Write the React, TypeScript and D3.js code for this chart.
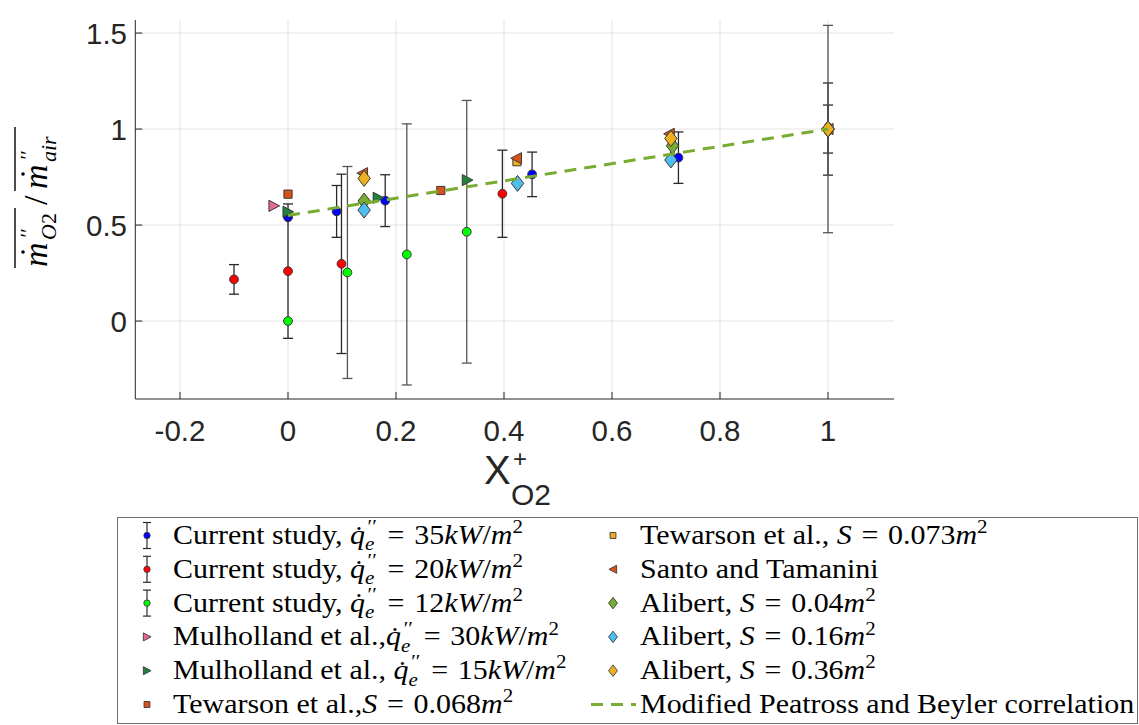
import React from 'react';
import * as d3 from 'd3';

// ---------- data ----------
const xTicks = [-0.2, 0, 0.2, 0.4, 0.6, 0.8, 1];
const yTicks = [0, 0.5, 1, 1.5];

// Current study, q = 35 kW/m2
const cs35X = [0, 0.09, 0.18, 0.452, 0.723, 1.0];
const cs35Y = [0.54, 0.571, 0.627, 0.764, 0.851, 1.0];
const cs35E = [0, 0.135, 0.135, 0.116, 0.134, 0.125];
// Current study, q = 20 kW/m2
const cs20X = [-0.1, 0, 0.099, 0.397, 1.0];
const cs20Y = [0.217, 0.26, 0.298, 0.663, 1.0];
const cs20E = [0.077, 0.35, 0.467, 0.227, 0.24];
// Current study, q = 12 kW/m2
const cs12X = [0, 0.11, 0.22, 0.331, 1.0];
const cs12Y = [0.0, 0.253, 0.347, 0.465, 1.0];
const cs12E = [0, 0.552, 0.68, 0.684, 0.54];

const mul30X = [-0.026];
const mul30Y = [0.6];
const mul15X = [0.0, 0.167, 0.332];
const mul15Y = [0.569, 0.642, 0.734];
const tew068X = [0.0, 0.283];
const tew068Y = [0.661, 0.68];
const tew073X = [0.424];
const tew073Y = [0.83];
const santoX = [0.138, 0.423, 0.706, 1.0];
const santoY = [0.77, 0.848, 0.975, 1.0];
const ali04X = [0.141, 0.712, 1.0];
const ali04Y = [0.625, 0.913, 1.0];
const ali16X = [0.141, 0.425, 0.709, 1.0];
const ali16Y = [0.578, 0.717, 0.839, 1.0];
const ali36X = [0.141, 0.709, 1.0];
const ali36Y = [0.743, 0.951, 1.0];

const corrX = [0, 1];
const corrY = [0.55, 1.0];

// ---------- layout ----------
const W = 1139, H = 725;
const PL = 135.3, PR = 894, PT = 20, PB = 399;
const x = d3.scaleLinear().domain([-0.2828, 1.1222]).range([PL, PR]);
const y = d3.scaleLinear().domain([-0.406, 1.568]).range([PB, PT]);

type Shape = 'circle' | 'triR' | 'triL' | 'square' | 'diamond';

function Marker({ shape, cx, cy, fill, big }: { shape: Shape; cx: number; cy: number; fill: string; big: boolean }) {
  const k = big ? 1 : 0.72;
  const stroke = '#3a3a3a';
  const sw = big ? 1 : 0.9;
  if (shape === 'circle') return <circle cx={cx} cy={cy} r={4.4 * k} fill={fill} stroke={stroke} strokeWidth={sw} />;
  let d = '';
  if (shape === 'triR') { const h = 5.6 * k; d = `M${-h * 0.9},${-h}L${h},0L${-h * 0.9},${h}Z`; }
  if (shape === 'triL') { const h = 5.6 * k; d = `M${h * 0.9},${-h}L${-h},0L${h * 0.9},${h}Z`; }
  if (shape === 'square') { const h = 4.1 * k; d = `M${-h},${-h}h${2 * h}v${2 * h}h${-2 * h}Z`; }
  if (shape === 'diamond') { const w = 6.2 * k, h = 8 * k; d = `M0,${-h}L${w},0L0,${h}L${-w},0Z`; }
  return <path d={d} transform={`translate(${cx},${cy})`} fill={fill} stroke={stroke} strokeWidth={sw} strokeLinejoin="miter" />;
}

type Seg = { t: string; it?: boolean; pos?: 'sup' | 'sub'; dx?: number };

const SERIF = "'Liberation Serif', 'Times New Roman', serif";
const SANS = "'Liberation Sans', Arial, Helvetica, sans-serif";

function Rich({ px, py, segs, size }: { px: number; py: number; segs: Seg[]; size: number }) {
  let cur = 0;
  return (
    <text transform={`translate(${px},${py}) scale(1.11,1)`} fontFamily={SERIF} fontSize={size} fill="#000">
      {segs.map((s, i) => {
        const target = s.pos === 'sup' ? -size * 0.4 : s.pos === 'sub' ? size * 0.24 : 0;
        const dy = target - cur;
        cur = target;
        return (
          <tspan key={i} dy={dy} dx={s.dx || 0} fontStyle={s.it ? 'italic' : 'normal'} fontSize={s.pos ? size * 0.7 : size}>
            {s.t}
          </tspan>
        );
      })}
    </text>
  );
}

const qdot = (val: string, lead: string): Seg[] => [
  { t: lead },
  { t: 'q\u0307', it: true },
  { t: 'e', it: true, pos: 'sub' },
  { t: '\u2032\u2032', pos: 'sup', dx: -6 },
  { t: ' = ', dx: 3 },
  { t: val, dx: 2 },
  { t: 'kW', it: true },
  { t: '/' },
  { t: 'm', it: true },
  { t: '2', pos: 'sup' },
];
const sArea = (lead: string, val: string): Seg[] => [
  { t: lead },
  { t: 'S', it: true },
  { t: ' = ', dx: 2 },
  { t: val, dx: 2 },
  { t: 'm', it: true },
  { t: '2', pos: 'sup' },
];

type Series = { xs: number[]; ys: number[]; err?: number[]; shape: Shape; fill: string; errColor?: string; label: Seg[] };

const errSeries: Series[] = [
  { xs: cs35X, ys: cs35Y, err: cs35E, shape: 'circle', fill: '#0000ff', errColor: '#2a2a2a', label: qdot('35', 'Current study, ') },
  { xs: cs20X, ys: cs20Y, err: cs20E, shape: 'circle', fill: '#ff0000', errColor: '#2a2a2a', label: qdot('20', 'Current study, ') },
  { xs: cs12X, ys: cs12Y, err: cs12E, shape: 'circle', fill: '#00ff00', errColor: '#555555', label: qdot('12', 'Current study, ') },
];
const mkSeries: Series[] = [
  { xs: mul30X, ys: mul30Y, shape: 'triR', fill: '#e3699b', label: qdot('30', 'Mulholland et al.,') },
  { xs: mul15X, ys: mul15Y, shape: 'triR', fill: '#22803c', label: qdot('15', 'Mulholland et al., ') },
  { xs: tew068X, ys: tew068Y, shape: 'square', fill: '#d95319', label: sArea('Tewarson et al.,', '0.068') },
  { xs: tew073X, ys: tew073Y, shape: 'square', fill: '#edb120', label: sArea('Tewarson et al., ', '0.073') },
  { xs: santoX, ys: santoY, shape: 'triL', fill: '#d95319', label: [{ t: 'Santo and Tamanini' }] },
  { xs: ali04X, ys: ali04Y, shape: 'diamond', fill: '#77ac30', label: sArea('Alibert, ', '0.04') },
  { xs: ali16X, ys: ali16Y, shape: 'diamond', fill: '#4dbeee', label: sArea('Alibert, ', '0.16') },
  { xs: ali36X, ys: ali36Y, shape: 'diamond', fill: '#edb120', label: sArea('Alibert, ', '0.36') },
];
const corrLabel: Seg[] = [{ t: 'Modified Peatross and Beyler correlation' }];

const AX = '#262626';

export default function App() {
  const line = d3.line<number>().x((_, i) => x(corrX[i])).y((v) => y(v));
  const cap = 5;
  const legendRows = [535.5, 569.3, 603.1, 636.9, 670.7, 704.5];
  const allLegend: { s?: Series; kind: 'err' | 'mk' | 'line' }[] = [
    ...errSeries.map((s) => ({ s, kind: 'err' as const })),
    ...mkSeries.map((s) => ({ s, kind: 'mk' as const })),
    { kind: 'line' as const },
  ];
  return (
    <svg width={W} height={H} style={{ position: 'absolute', left: 0, top: 0, background: '#fff' }}>
      <rect x={0} y={0} width={W} height={H} fill="#fff" />
      {/* grid */}
      {xTicks.map((t) => (
        <line key={'gx' + t} x1={x(t)} x2={x(t)} y1={PT} y2={PB} stroke="#e3e3e3" strokeWidth={1} />
      ))}
      {yTicks.map((t) => (
        <line key={'gy' + t} x1={PL} x2={PR} y1={y(t)} y2={y(t)} stroke="#e3e3e3" strokeWidth={1} />
      ))}
      {/* axes */}
      <line x1={PL} x2={PL} y1={PT} y2={PB} stroke={AX} strokeWidth={1} />
      <line x1={PL} x2={PR} y1={PB} y2={PB} stroke={AX} strokeWidth={1} />
      {xTicks.map((t) => (
        <line key={'tx' + t} x1={x(t)} x2={x(t)} y1={PB} y2={PB - 7} stroke={AX} strokeWidth={1} />
      ))}
      {yTicks.map((t) => (
        <line key={'ty' + t} x1={PL} x2={PL + 7} y1={y(t)} y2={y(t)} stroke={AX} strokeWidth={1} />
      ))}
      {xTicks.map((t) => (
        <text key={'lx' + t} x={x(t)} y={441} textAnchor="middle" fontFamily={SANS} fontSize={29.5} fill={AX}>
          {d3.format('')(t).replace('−', '-')}
        </text>
      ))}
      {yTicks.map((t) => (
        <text key={'ly' + t} x={127} y={y(t) + 10.5} textAnchor="end" fontFamily={SANS} fontSize={29.5} fill={AX}>
          {String(t)}
        </text>
      ))}

      {/* series with error bars */}
      {errSeries.map((s, si) => (
        <g key={'es' + si}>
          {s.xs.map((xv, i) => {
            const e = s.err![i];
            const px = x(xv);
            const y1 = y(s.ys[i] + e), y2 = y(s.ys[i] - e);
            return (
              <g key={i} stroke={s.errColor} strokeWidth={1.3}>
                <line x1={px} x2={px} y1={y1} y2={y2} />
                <line x1={px - cap} x2={px + cap} y1={y1} y2={y1} />
                <line x1={px - cap} x2={px + cap} y1={y2} y2={y2} />
              </g>
            );
          })}
          {s.xs.map((xv, i) => (
            <Marker key={'m' + i} shape={s.shape} cx={x(xv)} cy={y(s.ys[i])} fill={s.fill} big />
          ))}
        </g>
      ))}
      {mkSeries.map((s, si) => (
        <g key={'ms' + si}>
          {s.xs.map((xv, i) => (
            <Marker key={i} shape={s.shape} cx={x(xv)} cy={y(s.ys[i])} fill={s.fill} big />
          ))}
        </g>
      ))}
      <path d={line(corrY) || ''} fill="none" stroke="#77ac30" strokeWidth={3} strokeDasharray="12 8" />

      {/* x label */}
      <text x={484} y={484} fontFamily={SANS} fontSize={40} fill={AX}>X</text>
      <text x={513} y={467} fontFamily={SANS} fontSize={24} fill={AX}>+</text>
      <text x={511} y={505} fontFamily={SANS} fontSize={30} fill={AX}>O2</text>

      {/* y label */}
      <g transform="translate(47,197) rotate(-90)" fontFamily={SERIF} fill="#000">
        <text x={-70} y={0} fontSize={34} fontStyle="italic">m</text>
        <circle cx={-55} cy={-24} r={1.8} fill="#000" />
        <text x={-42} y={-12} fontSize={22} fontStyle="italic">{'\u2032\u2032'}</text>
        <text x={-43} y={9} fontSize={22} fontStyle="italic">O<tspan fontStyle="normal">2</tspan></text>
        <line x1={-71} x2={-11} y1={-32} y2={-32} stroke="#000" strokeWidth={1.4} />
        <text x={-8} y={0} fontSize={34}>/</text>
        <text x={8} y={0} fontSize={34} fontStyle="italic">m</text>
        <circle cx={23} cy={-24} r={1.8} fill="#000" />
        <text x={36} y={-12} fontSize={22} fontStyle="italic">{'\u2032\u2032'}</text>
        <text x={35} y={9} fontSize={22} fontStyle="italic">air</text>
        <line x1={6} x2={70} y1={-32} y2={-32} stroke="#000" strokeWidth={1.4} />
      </g>

      {/* legend */}
      <rect x={117.5} y={517.5} width={1020} height={206} fill="#fff" stroke="#6e6e6e" strokeWidth={1} />
      {allLegend.map((e, i) => {
        const col = i < 6 ? 0 : 1;
        const row = i % 6;
        const cy = legendRows[row];
        const mx = col === 0 ? 147 : 613;
        const tx = col === 0 ? 173 : 640;
        let icon: React.ReactNode = null;
        if (e.kind === 'err') {
          icon = (
            <g>
              <g stroke="#2a2a2a" strokeWidth={1.2}>
                <line x1={mx} x2={mx} y1={cy - 13} y2={cy + 13} />
                <line x1={mx - 4} x2={mx + 4} y1={cy - 13} y2={cy - 13} />
                <line x1={mx - 4} x2={mx + 4} y1={cy + 13} y2={cy + 13} />
              </g>
              <Marker shape="circle" cx={mx} cy={cy} fill={e.s!.fill} big={false} />
            </g>
          );
        } else if (e.kind === 'mk') {
          icon = <Marker shape={e.s!.shape} cx={mx} cy={cy} fill={e.s!.fill} big={false} />;
        } else {
          icon = <line x1={591} x2={636} y1={cy} y2={cy} stroke="#77ac30" strokeWidth={3} strokeDasharray="12 8" />;
        }
        return (
          <g key={'lg' + i}>
            {icon}
            <Rich px={tx} py={cy + 8.5} segs={e.s ? e.s.label : corrLabel} size={27} />
          </g>
        );
      })}
    </svg>
  );
}
